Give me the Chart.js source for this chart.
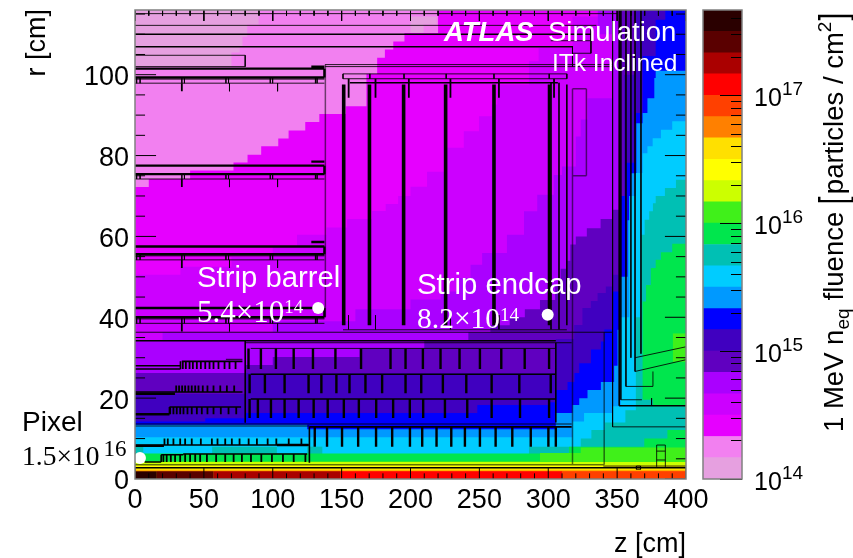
<!DOCTYPE html>
<html>
<head>
<meta charset="utf-8">
<title>ITk Inclined fluence</title>
<script src="https://cdn.jsdelivr.net/npm/chart.js@4"></script>
<style>
	html, body {margin: 0; padding: 0; background: #fff;}
	canvas {position: absolute; top: 0;}
	#map {left: 0;}
	#bar {left: 690px;}
</style>
</head>
<body>
<canvas id="map" width="853" height="558"></canvas>
<canvas id="bar" width="163" height="558"></canvas>
<script>
'use strict';

const SANS = '"Liberation Sans", Arial, sans-serif';
const SERIF = '"Liberation Serif", serif';

//colour scale, lowest band first
const bandEdges = [1e14, 1.47e14, 2.15e14, 3.16e14, 4.64e14, 6.81e14, 1e15, 1.47e15, 2.15e15, 3.16e15, 4.64e15, 6.81e15,
	1e16, 1.47e16, 2.15e16, 3.16e16, 4.64e16, 6.81e16, 1e17, 1.47e17, 2.15e17, 3.16e17, 4.64e17];
const bandColours = ['#e6a0e0', '#f280f0', '#e600ff', '#cc00ff', '#aa00ff', '#6000c0', '#4000c0', '#0000ff', '#0099ff',
	'#00ccff', '#00c0b4', '#00e64d', '#40f01a', '#ccff00', '#ffff00', '#ffe000', '#ff8000', '#ff4000', '#ff0000',
	'#aa0000', '#5a0000', '#2a0000'];
const decadeTicks = [1e14, 1e15, 1e16, 1e17];
const minorTicks = [2e14, 3e14, 4e14, 5e14, 6e14, 7e14, 8e14, 9e14, 2e15, 3e15, 4e15, 5e15, 6e15, 7e15, 8e15, 9e15,
	2e16, 3e16, 4e16, 5e16, 6e16, 7e16, 8e16, 9e16, 2e17, 3e17, 4e17];

//fluence contours as [z, r] stair corners: each step runs along z, then along r
const level0Left = [[0, 102], [70, 105.5], [76, 107], [78, 109.4], [81.5, 112.4], [89.7, 120], [0, 120]];
const level0Island = [[200, 110.4], [209.5, 112.4], [219, 114.4], [200, 114.4]];
const level1 = [[0, -1], [0, 120], [400, 120], [400, -1]];
const level2 = [[0, 72.2], [10, 74.2], [40, 76.3], [71.5, 78.3], [81.7, 80.2], [91.6, 82.3], [104, 84.2], [111.5, 86.2],
	[123.6, 88.3], [133.8, 90.3], [153, 92.2], [168, 100.2], [175.8, 104.2], [181.4, 106.2], [187.5, 108.2],
	[195.6, 110.3], [220, 120], [400, 120], [400, -1], [0, -1]];
const level3 = [[0, 50.5], [33, 52.5], [70, 55], [100, 57.5], [117.6, 60.4], [139, 62.2], [154, 64.3], [172, 66.3],
	[182, 68], [191, 70], [200, 72.3], [212, 76], [226.6, 81.9], [238.7, 86], [249.7, 89.7], [259, 92.6], [263, 97.5],
	[286, 103.3], [293, 106.6], [317.6, 114.4], [336, 120], [400, 120], [400, -1], [0, -1]];
const level4 = [[0, 34.4], [20, 36.3], [100, 39], [160, 42], [200, 44.4], [222, 46.4], [234, 49.7], [243.6, 53], [252, 55.9],
	[270, 60.4], [282.4, 66.2], [292, 70.3], [304, 75.2], [310, 77.3], [320, 84.7], [323.6, 88.9], [328.5, 94.2],
	[347, 110], [336, 114.4], [336, 120], [400, 120], [400, -1], [0, -1]];
const level5 = [[0, 26.2], [80, 28.2], [100, 30.2], [163, 32.4], [210, 34.4], [242, 36.3], [258, 38], [272, 40], [283, 42],
	[294, 44.3], [305, 48], [309, 52], [313, 54], [316, 58], [320, 60], [328, 62], [338, 64.3], [347, 66.6], [352, 120],
	[400, 120], [400, -1], [0, -1]];
const level6 = [[0, 21], [80, 26.2], [305.5, 34.6], [318.8, 38.1], [324.8, 42.3], [330.9, 44], [335.8, 46], [341.8, 47.6],
	[346.7, 50.5], [351, 66], [355, 100], [363.6, 120], [400, 120], [400, -1], [0, -1]];
const level7 = [[0, 14.2], [51, 15], [80, 16.3], [248.5, 18.3], [300, 19], [305, 22], [314, 24], [319, 26.2], [322.5, 28.6],
	[331, 32], [338.2, 34], [340.7, 37], [346.9, 46.4], [352.7, 70], [356.4, 78.2], [363.6, 90.5], [368.5, 104.6],
	[378, 113.6], [385, 120], [400, 120], [400, -1], [0, -1]];
const level8 = [[0, 13.4], [125, 12.3], [305.5, 16.3], [317.6, 18.3], [322.5, 20], [328.5, 22], [338.2, 24], [347.8, 28],
	[350.3, 36.9], [352.7, 50], [357.6, 64], [360, 75.6], [364, 88], [368.5, 90.5], [372, 94.2], [377, 99.2], [378, 101],
	[400, 101], [400, -1], [0, -1]];
const level9 = [[0, 10.3], [317.6, 14.2], [326, 16.3], [346.6, 18], [352.7, 40], [358.8, 70], [363.6, 75.7], [368.5, 80.6],
	[372, 82.3], [375.8, 84.3], [381.8, 86.4], [390, 88.5], [400, 88.5], [400, -1], [0, -1]];
const level10Main = [[286, -1], [286, 8], [323.6, 10], [331.3, 12.1], [341, 14], [356, 17], [363.6, 40], [367.3, 60.4],
	[370, 64.1], [373.3, 66.2], [376, 68.2], [378, 70], [384.7, 72], [392.7, 74], [400, 75], [400, -1]];
const level10Near = [[56, 6], [56, 8], [103, 8], [103, 6]];
const level10Mid = [[125, 6], [125, 8], [136, 8], [136, 6]];
const level10Edge = [[0, 6], [0, 8], [6, 8], [6, 6]];
const level11Low = [[0, 6.3], [315, 8], [369.7, 10], [386.5, 12.1], [400, 13], [400, -1], [0, -1]];
const level11High = [[367, 19.6], [368.5, 43.9], [371, 48], [374.5, 52.2], [378, 54.2], [381.8, 56.1], [390, 58.2],
	[400, 58.2], [400, 18], [376, 18], [376, 19.6]];
const level12Low = [[0, 4.4], [294, 6.4], [323.6, 7.8], [400, 7.8], [400, -1], [0, -1]];
const level12High = [[390.5, 29], [390.5, 36], [400, 36], [400, 29]];
const level13 = [[0, -1], [0, 4.2], [400, 4.2], [400, -1]];
const level14 = [[0, -1], [0, 3.4], [400, 3.4], [400, -1]];
const level15 = [[0, -1], [0, 2.6], [400, 2.6], [400, -1]];
const level16 = [[0, -1], [0, 2.1], [400, 2.1], [400, -1]];
const stripFar = [[310, -1], [310, 1.9], [400, 1.9], [400, -1]];
const stripRed = [[149, -1], [149, 1.9], [310, 1.9], [310, -1]];
const stripMid = [[57, -1], [57, 1.9], [149, 1.9], [149, -1]];
const stripDark = [[15.8, -1], [15.8, 1.9], [57, 1.9], [57, -1]];
const stripDarkest = [[0, -1], [0, 1.9], [15.8, 1.9], [15.8, -1]];
const mapBands = [
	[level1, 1], [level0Left, 0], [level0Island, 0], [level2, 2], [level3, 3], [level4, 4], [level5, 5], [level6, 6],
	[level7, 7], [level8, 8], [level9, 9], [level10Main, 10], [level10Near, 10], [level10Mid, 10], [level10Edge, 10],
	[level11Low, 11], [level11High, 11], [level12Low, 12], [level12High, 12], [level13, 13], [level14, 14], [level15, 15],
	[level16, 16], [stripFar, 17], [stripRed, 18], [stripMid, 19], [stripDark, 20], [stripDarkest, 21]
];

//detector outlines as [z0, r0, z1, r1]
const thinLines = [
	[0, 115.1, 350, 115.1], [0, 112.2, 335, 112.2], [301.8, 108.4, 331, 108.4], [331, 112, 331, 105.3], [317.6, 105.3, 331, 105.3],
	[317.6, 106.9, 317.6, 102], [0, 104.8, 80, 104.8], [80, 104.8, 80, 102], [0, 102, 80, 102],
	[0, 98.9, 137.5, 98.9], [0, 97.9, 137.5, 97.9], [0, 75.4, 137.5, 75.4], [0, 74.2, 137.5, 74.2],
	[0, 55.2, 137.5, 55.2], [0, 54.2, 137.5, 54.2], [0, 39.6, 137.5, 39.6], [0, 38.5, 137.5, 38.5],
	[138, 102.5, 347, 102.5], [138, 102, 347, 102], [151, 100.2, 313.5, 100.2], [151, 99, 313.5, 99],
	[170.5, 100.2, 170.5, 99], [195.3, 100.2, 195.3, 99], [225.9, 100.2, 225.9, 99], [260.6, 100.2, 260.6, 99],
	[300.7, 100.2, 300.7, 99], [151, 100.2, 151, 99], [313.5, 100.2, 313.5, 99],
	[302, 98, 302, 37], [307.8, 98, 307.8, 37], [151, 36.9, 313.5, 36.9], [0, 36.3, 347, 36.3], [80, 33.7, 317, 33.7],
	[84, 32.3, 305.5, 32.3], [155, 40.5, 155, 37], [174.6, 40.5, 174.6, 37], [229, 40.5, 229, 37], [264.2, 40.5, 264.2, 37],
	[126.6, 13.6, 317, 13.6], [346.7, 116, 346.7, 12.9], [346.7, 12.9, 400, 12.9], [352.7, 116, 352.7, 19.6],
	[352.7, 19.6, 368, 19.6], [356.4, 116, 356.4, 22.9], [356.4, 22.9, 376, 22.9], [376, 22.9, 376, 26.6], [360, 116, 360, 30],
	[363, 116, 363, 26.6], [367.3, 116, 367.3, 31], [363, 26.6, 400, 29.5], [363, 30, 400, 32.7], [375, 20, 375, 18.1],
	[340, 3.2, 400, 3.2], [364, 3.2, 367, 3.2], [364, 2.4, 367, 2.4], [364, 3.2, 364, 2.4], [367, 3.2, 367, 2.4],
	[378.7, 8.4, 385, 8.4], [378.7, 3, 378.7, 8.4], [385, 3, 385, 8.4], [378.7, 6.9, 385, 6.9], [378.7, 4.7, 385, 4.7],
	[66, 29.6, 78, 29.6]
];
const fadedLines = [
	[317.6, 96.5, 327.7, 96.5], [327.7, 96.5, 327.7, 75], [317.6, 75, 327.7, 75], [317.6, 96.5, 317.6, 3.5],
	[340.6, 36.3, 340.6, 3.5], [317.6, 3.5, 340.6, 3.5], [138.2, 102.5, 138.2, 40], [0, 13.6, 126.6, 13.6], [0, 13.1, 126.6, 13.1],
	[0, 3.5, 320, 3.5]
];
const mediumLines = [
	[0, 110, 331, 110], [0, 106.9, 318, 106.9], [156, 98, 307, 98], [0, 34.2, 305.5, 34.2], [80, 34.4, 80, 13.9],
	[84, 25.9, 305.5, 25.9], [84, 19.8, 305.5, 19.8], [305.5, 33.7, 305.5, 14], [126.6, 12.9, 317, 12.9], [126.6, 12.9, 126.6, 4],
	[351.5, 116, 351.5, 18.1], [351.5, 18.1, 400, 18.1], [0, 2.8, 400, 2.8], [313.5, 97.6, 313.5, 38], [300.2, 97.6, 300.2, 38],
	[301.2, 97.6, 301.2, 38], [34, 29.1, 78, 29.1], [0, 28, 33, 28], [0, 27.2, 33, 27.2], [33, 29.1, 33, 27.2],
	[0, 21.5, 78, 21.5], [25, 17.8, 77, 17.8], [25, 17.8, 25, 16], [0, 8.4, 126, 8.4], [35, 6.2, 125, 6.2], [19, 6, 35, 6],
	[19, 6, 19, 4.2], [7, 4.2, 19, 4.2]
];
const heavyLines = [
	[-0.5, 101.5, 137.5, 101.5], [-0.5, 99.3, 137.5, 99.3], [137.5, 101.5, 137.5, 99.3],
	[-0.5, 77.5, 137.5, 77.5], [-0.5, 75.4, 137.5, 75.4], [137.5, 77.5, 137.5, 75.4],
	[-0.5, 57.5, 137.5, 57.5], [-0.5, 55.6, 137.5, 55.6], [137.5, 57.5, 137.5, 55.6],
	[-0.5, 42.3, 137.5, 42.3], [-0.5, 40, 137.5, 40], [137.5, 42.3, 137.5, 40],
	[128, 102, 137.5, 102], [128, 78.5, 137.5, 78.5], [128, 58.6, 137.5, 58.6],
	[0, 21.1, 29, 21.1], [0, 16, 25, 16], [0, 8.2, 21, 8.2], [103, 8.4, 126, 8.4]
];
const wheelLines = [
	[151.5, 97.6, 151.5, 38], [170.2, 97.6, 170.2, 38], [195, 97.6, 195, 38], [225.5, 97.6, 225.5, 38], [260.6, 97.6, 260.6, 38]
];

//module positions along z, with the r range they hang over
const staveDividers = [1.2, 3.7, 34, 35.9, 66, 67.9, 98.2, 99.9, 131, 132.2];
const staveRadii = [[99.3, 97.9], [75.4, 74.2], [55.6, 54.2], [40, 38.5]];
const staveClamps = [34, 68.6, 103.5];
const endcapClamps = [155.1, 174.6, 198.8, 229, 264.2, 304.2];
const shortRow1 = [82.4, 91.4, 102.3, 115.2, 129.2, 145.5, 164.1, 185.5, 196.4, 209, 221.8, 235.6, 250.4, 265.9, 282.9, 300.6];
const shortRow2 = [83.2, 94.3, 108.6, 126, 135.3, 146.2, 155.7, 167.3, 179.4, 196.4, 207.8, 223.5, 240.5, 258.9, 279, 301.8];
const shortRow3 = [83.2, 89.2, 98.7, 108.6, 118.8, 129.7, 139.9, 151.6, 162.5, 175.1, 187.4, 199.5, 209.2, 225, 241.2, 258.9,
	279.5, 300.6];
const shortRow4 = [130.5, 139.4, 150.3, 162, 175, 186.7, 199.6, 208.5, 218.9, 229.6, 239.5, 250.4, 261.8, 273.9, 287.3, 300.1,
	305.5];
const pixelRowA = [34.7, 36.9, 39.6, 42, 44.9, 47.8, 51, 54.1, 57, 60.6, 65, 68.6, 73];
const pixelRowB = [29.9, 32, 34.2, 36.4, 38.8, 41.2, 43.7, 46.1, 49.2, 52.6, 57, 61.9, 66.7, 72];
const pixelRowC = [25.5, 27.9, 30.3, 32.8, 35.2, 38.1, 41.2, 44.9, 48.5, 52.6, 57, 62.3, 67.9, 73.5];
const pixelRowD = [21.4, 23.8, 27.9, 32.8, 36.4, 41.2, 47.8, 55.8, 59.9, 65.5, 70.3, 75.9, 82.5, 88.5, 96.3, 102.6, 111.6, 120.8];
const pixelRowE = [20.6, 23, 26, 29.1, 32.8, 36.4, 40, 43.7, 47.3, 52.2, 58.9, 65.5, 71.6, 77.6, 84.2, 91.7, 99.4, 107.4, 115.2,
	123.7];

//highlighted module positions
const markerZ = [133, 299.6, 3.6];
const markerR = [42.3, 40.6, 5.2];

//axis tick positions
const zMajor = [0, 50, 100, 150, 200, 250, 300, 350, 400];
const zMinor = [10, 20, 30, 40, 60, 70, 80, 90, 110, 120, 130, 140, 160, 170, 180, 190, 210, 220, 230, 240, 260, 270, 280, 290,
	310, 320, 330, 340, 360, 370, 380, 390];
const rMajor = [0, 20, 40, 60, 80, 100];
const rMinor = [5, 10, 15, 25, 30, 35, 45, 50, 55, 65, 70, 75, 85, 90, 95, 105, 110, 115];

/** Turns [z0, r0, z1, r1] entries into one broken line for a scatter dataset.
 * @param {Array} segs Line segments.
 * @return {Array} Points with a gap after every segment. */
function segmentPoints(segs) {
	const pts = [];
	for (const [z0, r0, z1, r1] of segs) {
		pts.push({x: z0, y: r0}, {x: z1, y: r1}, {x: NaN, y: NaN});
	}
	return pts;
}

/** Vertical strokes at every z between two radii. */
function verticals(zs, r0, r1) {
	return zs.map(z => [z, r0, z, r1]);
}

function outline(segs, colour, width, order) {
	return {
		data: segmentPoints(segs),
		showLine: true,
		borderColor: colour,
		borderWidth: width,
		pointRadius: 0,
		order: order
	};
}

/** Fixes an axis box to a set size, without the extra room Chart.js keeps for end labels. */
function fixBox(scale, size) {
	if (scale.isHorizontal()) {
		scale.height = size;
	}
	else {
		scale.width = size;
	}
	scale.paddingTop = scale.paddingBottom = scale.paddingLeft = scale.paddingRight = 0;
}

const axisTicks = [
	...zMajor.flatMap(z => [[z, 0, z, 2.7], [z, 116, z, 113.3]]),
	...zMinor.flatMap(z => [[z, 0, z, 1.4], [z, 116, z, 114.6]]),
	...rMajor.flatMap(r => [[0, r, 15.3, r], [400, r, 384.7, r]]),
	...rMinor.flatMap(r => [[0, r, 7.3, r], [400, r, 392.7, r]])
];

const bandSets = mapBands.map(([points, colourIdx], idx) => ({
	data: points.map(([z, r]) => ({x: z, y: r})),
	showLine: true,
	stepped: true,
	fill: 'shape',
	backgroundColor: bandColours[colourIdx],
	borderWidth: 0,
	pointRadius: 0,
	order: 100 - idx
}));

const moduleStrokes = [
	...staveRadii.flatMap(([r0, r1]) => verticals(staveDividers, r0, r1)),
	...staveRadii.flatMap(([, r1]) => verticals(staveClamps.slice(1), r1, r1 - 2))
];
const moduleBars = [
	...staveRadii.map(([, r1]) => [staveClamps[0], r1, staveClamps[0], r1 - 2]),
	...verticals(endcapClamps, 99, 94.3),
	...verticals(pixelRowA, 29.1, 27.2),
	...verticals(pixelRowB, 21.5, 23.1),
	...verticals(pixelRowC, 17.8, 16),
	...verticals(pixelRowD, 10, 8.4),
	...verticals(pixelRowE, 6.2, 4.2)
];
const shortStripBars = [
	...verticals(shortRow1, 32.3, 27.2),
	...verticals(shortRow2, 25.9, 21.2),
	...verticals(shortRow3, 19.8, 15.1),
	...verticals(shortRow4, 12.9, 8)
];

/** Draws a run of text, then a raised exponent right after it. */
function textWithPower(ctx, x, y, text, font, power, powerFont, rise, colour, gap = 0) {
	ctx.fillStyle = colour;
	ctx.font = font;
	ctx.textAlign = 'left';
	ctx.textBaseline = 'alphabetic';
	ctx.fillText(text, x, y);
	const width = ctx.measureText(text).width;
	ctx.font = powerFont;
	ctx.fillText(power, x + width + gap, y - rise);
}

const mapOverlay = {
	id: 'mapOverlay',
	afterDatasetsDraw: chart => {
		const {ctx, chartArea: area} = chart;
		ctx.save();
		ctx.strokeStyle = '#808080';
		ctx.lineWidth = 1.5;
		ctx.strokeRect(area.left, area.top, area.width, area.height);

		ctx.textBaseline = 'alphabetic';
		ctx.fillStyle = '#fff';
		ctx.textAlign = 'left';
		ctx.font = `italic bold 27.5px ${SANS}`;
		ctx.fillText('ATLAS', 444, 41);
		ctx.font = `27.5px ${SANS}`;
		ctx.fillText('Simulation', 548, 41);
		ctx.font = `24.5px ${SANS}`;
		ctx.fillText('ITk Inclined', 552, 71);
		ctx.font = `29.3px ${SANS}`;
		ctx.fillText('Strip barrel', 197, 287);
		ctx.fillText('Strip endcap', 417, 294);
		textWithPower(ctx, 197, 322, '5.4×10', `31px ${SERIF}`, '14', `19px ${SERIF}`, 9, '#fff');
		textWithPower(ctx, 417, 328, '8.2×10', `29.5px ${SERIF}`, '14', `19px ${SERIF}`, 7, '#fff');

		ctx.fillStyle = '#000';
		ctx.font = `28px ${SANS}`;
		ctx.fillText('Pixel', 22, 431);
		textWithPower(ctx, 22, 465, '1.5×10', `27.5px ${SERIF}`, '16', `23px ${SERIF}`, 9, '#000', 4);

		//r axis title sits above the top of the frame, out of reach of the axis title option
		ctx.translate(45, 9);
		ctx.rotate(-Math.PI / 2);
		ctx.textAlign = 'right';
		ctx.font = `27px ${SANS}`;
		ctx.fillText('r [cm]', 0, 0);
		ctx.restore();
	}
};

new Chart(document.getElementById('map'), {
	type: 'scatter',
	data: {
		datasets: [
			...bandSets,
			outline(fadedLines, 'rgba(0, 0, 0, 0.55)', 1.5, 20),
			outline(thinLines, 'rgba(0, 0, 0, 0.85)', 1, 19),
			outline(moduleStrokes, 'rgba(0, 0, 0, 0.8)', 1, 18),
			outline(mediumLines, '#000', 1.6, 17),
			outline(heavyLines, '#000', 2.4, 16),
			outline(moduleBars, '#000', 1.8, 15),
			outline(shortStripBars, '#000', 2.4, 15),
			outline(wheelLines, '#000', 3.6, 14),
			outline(axisTicks, '#000', 1, 13),
			{
				data: markerZ.map((z, idx) => ({x: z, y: markerR[idx]})),
				pointRadius: 6,
				backgroundColor: '#fff',
				borderWidth: 0,
				clip: false,
				order: 1
			}
		]
	},
	options: {
		animation: false,
		responsive: false,
		layout: {padding: {top: 10, right: 167, left: 0, bottom: 0}},
		plugins: {legend: {display: false}, tooltip: {enabled: false}},
		scales: {
			x: {
				type: 'linear',
				min: 0,
				max: 400,
				afterFit: scale => fixBox(scale, 79),
				grid: {display: false, drawTicks: false},
				border: {display: false},
				ticks: {
					stepSize: 50,
					maxRotation: 0,
					padding: 5,
					color: '#000',
					font: {family: SANS, size: 27}
				},
				title: {
					display: true,
					text: 'z [cm]',
					align: 'end',
					color: '#000',
					font: {family: SANS, size: 27},
					padding: {top: 0, bottom: -3}
				}
			},
			y: {
				type: 'linear',
				min: 0,
				max: 116,
				afterFit: scale => fixBox(scale, 135),
				grid: {display: false, drawTicks: false},
				border: {display: false},
				ticks: {
					stepSize: 20,
					includeBounds: false,
					padding: 6,
					labelOffset: 3,
					color: '#000',
					font: {family: SANS, size: 27}
				}
			}
		}
	},
	plugins: [mapOverlay]
});

const barOverlay = {
	id: 'barOverlay',
	afterDatasetsDraw: chart => {
		const {ctx, chartArea: area, scales} = chart;
		ctx.save();
		ctx.strokeStyle = '#000';
		ctx.lineWidth = 1;
		for (const value of decadeTicks) {
			const y = Math.round(scales.y.getPixelForValue(value)) + 0.5;
			ctx.beginPath();
			ctx.moveTo(area.right - 22, y);
			ctx.lineTo(area.right, y);
			ctx.stroke();
		}
		for (const value of minorTicks) {
			const y = Math.round(scales.y.getPixelForValue(value)) + 0.5;
			ctx.beginPath();
			ctx.moveTo(area.right - 11, y);
			ctx.lineTo(area.right, y);
			ctx.stroke();
		}
		ctx.strokeStyle = '#808080';
		ctx.lineWidth = 1.5;
		ctx.strokeRect(area.left, area.top, area.width, area.height);

		//decade exponents next to the axis labels
		ctx.fillStyle = '#000';
		ctx.font = `19px ${SANS}`;
		ctx.textAlign = 'left';
		ctx.textBaseline = 'alphabetic';
		for (const value of decadeTicks) {
			ctx.fillText(String(Math.round(Math.log10(value))), 92, scales.y.getPixelForValue(value));
		}

		//title of the colour scale, reading upwards
		ctx.translate(153, 432);
		ctx.rotate(-Math.PI / 2);
		const font = `27.5px ${SANS}`;
		let x = 0;
		const run = (text, runFont, rise) => {
			ctx.font = runFont;
			ctx.fillText(text, x, -rise);
			x += ctx.measureText(text).width;
		};
		//tall brackets: stretched across the line, so the stroke stays thin
		const bracket = text => {
			ctx.save();
			ctx.translate(x, 3);
			ctx.scale(1, 1.38);
			ctx.font = font;
			ctx.fillText(text, 0, 0);
			ctx.restore();
		};
		run('1 MeV n', font, 0);
		run('eq', `19px ${SANS}`, -6);
		x += 8;
		run('fluence ', font, 0);
		bracket('[');
		x += 10;
		run('particles / cm', font, 0);
		run('2', `19px ${SANS}`, 12);
		x += 1;
		bracket(']');
		ctx.restore();
	}
};

new Chart(document.getElementById('bar'), {
	type: 'bar',
	data: {
		labels: [''],
		datasets: bandColours.map((colour, idx) => ({
			data: [[bandEdges[idx], bandEdges[idx + 1]]],
			backgroundColor: colour,
			barPercentage: 1,
			categoryPercentage: 1,
			grouped: false
		}))
	},
	options: {
		animation: false,
		responsive: false,
		layout: {padding: {top: 10, left: 13, bottom: 79, right: 0}},
		plugins: {legend: {display: false}, tooltip: {enabled: false}},
		scales: {
			x: {display: false},
			y: {
				type: 'logarithmic',
				position: 'right',
				min: bandEdges[0],
				max: bandEdges[bandEdges.length - 1],
				afterFit: scale => fixBox(scale, 111),
				afterBuildTicks: scale => {
					scale.ticks = decadeTicks.map(value => ({value: value, major: true}));
				},
				grid: {display: false, drawTicks: false},
				border: {display: false},
				ticks: {
					autoSkip: false,
					callback: () => '10',
					padding: 12,
					labelOffset: 4,
					color: '#000',
					font: {family: SANS, size: 25}
				}
			}
		}
	},
	plugins: [barOverlay]
});
</script>
</body>
</html>
